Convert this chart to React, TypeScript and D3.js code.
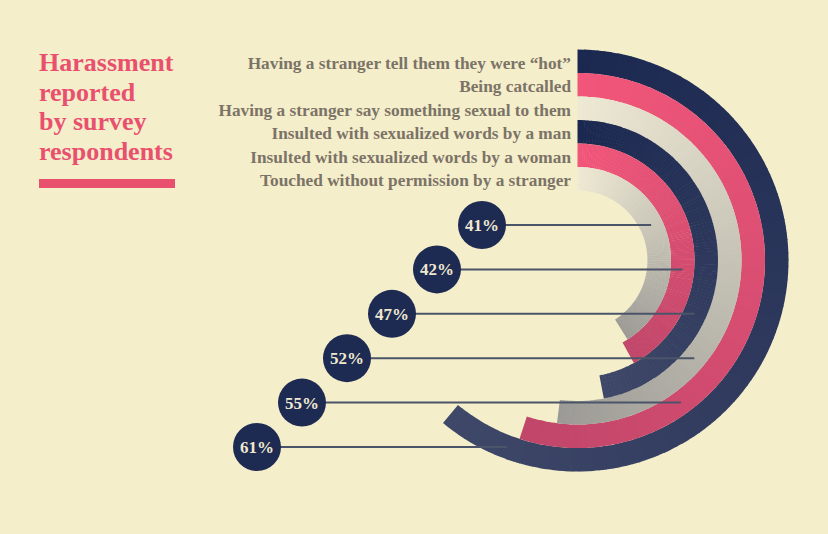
import React from "react";
import * as d3 from "d3";

const categories = [
  "Having a stranger tell them they were \u201chot\u201d",
  "Being catcalled",
  "Having a stranger say something sexual to them",
  "Insulted with sexualized words by a man",
  "Insulted with sexualized words by a woman",
  "Touched without permission by a stranger",
];
const values = [61, 55, 52, 47, 42, 41];
const colorKeys = ["navy", "pink", "beige", "navy", "pink", "beige"];
const titleLines = ["Harassment", "reported", "by survey", "respondents"];

const W = 828;
const H = 534;
const CX = 577.5;
const CY = 260.5;
const R_OUT = 211;
const R_IN = 70;
const BG = "#f4eecb";
const SERIF = "'Liberation Serif', 'DejaVu Serif', serif";

const palette: Record<string, [string, string]> = {
  navy: ["#1b2850", "#3f4868"],
  pink: ["#f2567a", "#c0466a"],
  beige: ["#eee9d4", "#9c9a96"],
};

const angle = d3.scaleLinear().domain([0, 100]).range([0, 2 * Math.PI]);
const radius = d3.scaleBand<number>().domain(d3.range(categories.length)).range([R_OUT, R_IN]).padding(0);
const bubbleX = d3.scaleLinear().domain([0, categories.length - 1]).range([257, 482]);
const bubbleY = d3.scaleLinear().domain([0, categories.length - 1]).range([447, 225]);

const SEG = 120;

function innerR(i: number) {
  return radius(i) as number;
}
function outerR(i: number) {
  return (radius(i) as number) + radius.bandwidth();
}
function midR(i: number) {
  return (radius(i) as number) + radius.bandwidth() / 2;
}

function lineEnd(i: number, y: number): number {
  const r = midR(i);
  const dy = y - CY;
  if (Math.abs(dy) >= r) return CX;
  const h = Math.sqrt(r * r - dy * dy);
  const end = angle(values[i]);
  for (const x of [CX - h, CX + h]) {
    let th = Math.atan2(x - CX, -dy);
    if (th < 0) th += 2 * Math.PI;
    if (th <= end) return x;
  }
  return CX + h;
}

export default function App() {
  const arcGen = d3.arc<any>();
  const arcs: JSX.Element[] = [];
  values.forEach((v, i) => {
    const outer = outerR(i);
    const inner = innerR(i);
    const end = angle(v);
    const [c0, c1] = palette[colorKeys[i]];
    const interp = d3.interpolateRgb(c0, c1);
    for (let s = 0; s < SEG; s++) {
      const a0 = (end * s) / SEG;
      const a1 = (end * (s + 1)) / SEG;
      const col = interp((s + 0.5) / SEG);
      const d = arcGen({
        innerRadius: inner,
        outerRadius: outer,
        startAngle: a0,
        endAngle: s === SEG - 1 ? a1 : a1 + 0.004,
      }) as string;
      arcs.push(<path key={`a${i}-${s}`} d={d} fill={col} />);
    }
  });

  return (
    <svg width={W} height={H} style={{ position: "absolute", left: 0, top: 0 }} fontFamily={SERIF}>
      <rect x={0} y={0} width={W} height={H} fill={BG} />
      {/* Title */}
      {titleLines.map((t, i) => (
        <text key={t} x={39} y={71 + i * 29.7} fontSize={26} fontWeight="bold" fill="#e9506e">
          {t}
        </text>
      ))}
      <rect x={39} y={179} width={136} height={9} fill="#e9506e" />

      {/* Category labels */}
      {categories.map((c, i) => (
        <text key={c} x={571} y={CY - midR(i) + 7.5} fontSize={17.3} fontWeight="bold" fill="#7c7367" textAnchor="end">
          {c}
        </text>
      ))}

      <g transform={`translate(${CX},${CY})`}>{arcs}</g>

      {/* Leader lines */}
      {values.map((v, i) => {
        const y = bubbleY(i);
        return (
          <line key={`l${i}`} x1={bubbleX(i)} x2={lineEnd(i, y)} y1={y} y2={y} stroke="#4b5569" strokeWidth={2} />
        );
      })}

      {/* Bubbles */}
      {values.map((v, i) => (
        <g key={`b${i}`} transform={`translate(${bubbleX(i)},${bubbleY(i)})`}>
          <circle r={24} fill="#1d2a52" />
          <text y={6} textAnchor="middle" fontSize={17} fontWeight="bold" fill="#efe8d0">
            {`${v}%`}
          </text>
        </g>
      ))}
    </svg>
  );
}
